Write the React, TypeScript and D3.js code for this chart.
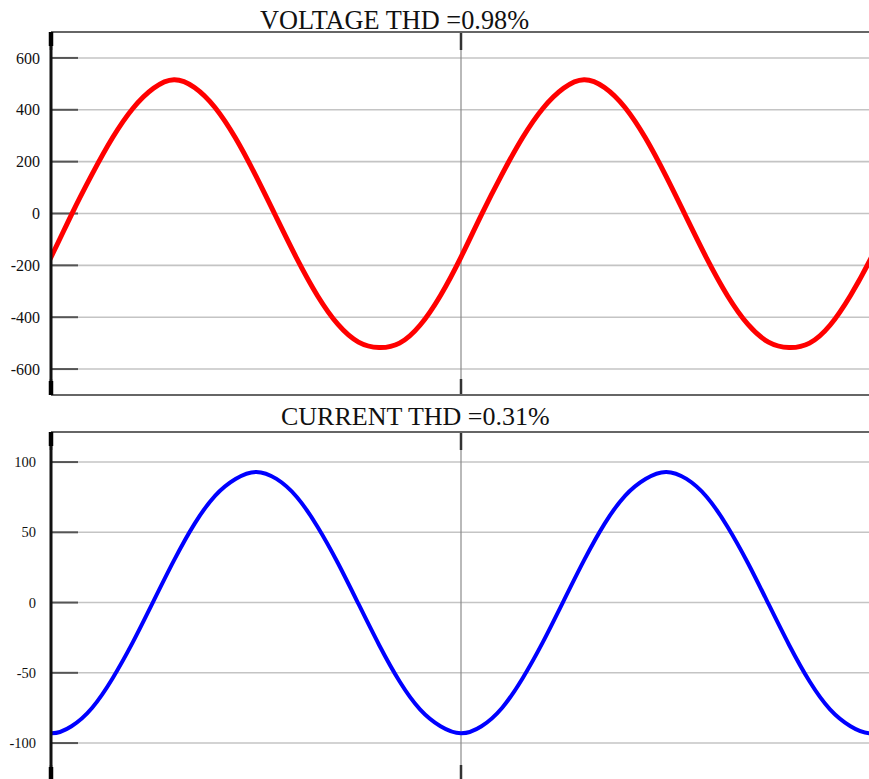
import React from "react";
import * as d3 from "d3";

// time in ms (two 50 Hz cycles, with one sample either side of the visible window)
const timeMs = [
  -1, 0, 1, 2, 3, 4, 5, 6, 7, 8, 9, 10, 11, 12, 13, 14, 15, 16, 17, 18, 19, 20,
  21, 22, 23, 24, 25, 26, 27, 28, 29, 30, 31, 32, 33, 34, 35, 36, 37, 38, 39, 40, 41,
];
const voltage = [
  -316, -168, -4, 151, 292, 406, 483, 516, 486, 409, 291, 144, -16, -175, -317, -428, -496, -517, -500, -431, -316, -168,
  -4, 151, 292, 406, 483, 516, 486, 409, 291, 144, -16, -175, -317, -428, -496, -517, -500, -431, -316, -172, -6,
];
const current = [
  -88, -93, -88, -75, -54, -28, 1, 30, 56, 76, 88, 93, 88, 75, 54, 28, -1, -30, -56, -76, -88, -93,
  -88, -75, -54, -28, 1, 30, 56, 76, 88, 93, 88, 75, 54, 28, -1, -30, -56, -76, -88, -93, -88,
];
const voltageTicks = [600, 400, 200, 0, -200, -400, -600];
const currentTicks = [100, 50, 0, -50, -100];
const xMajorTicks = [0, 20, 40];
const voltageTitle = "VOLTAGE THD =0.98%";
const currentTitle = "CURRENT THD =0.31%";

const W = 869;
const H = 779;
const LEFT = 51;
const SERIF = "'Liberation Serif', 'Times New Roman', serif";

const x = d3.scaleLinear().domain([0, 40]).range([LEFT, 871]);

type PanelProps = {
  id: string;
  yDomain: [number, number];
  yRange: [number, number];
  ticks: number[];
  values: number[];
  color: string;
  strokeWidth: number;
  labelSize: number;
  labelX: number;
  showBottom: boolean;
};

function Panel({ id, yDomain, yRange, ticks, values, color, strokeWidth, labelSize, labelX, showBottom }: PanelProps) {
  const y = d3.scaleLinear().domain(yDomain).range(yRange);
  const top = yRange[1];
  const bottom = yRange[0];
  const line = d3
    .line<number>()
    .x((_, i) => x(timeMs[i]))
    .y((d) => y(d))
    .curve(d3.curveNatural);
  return (
    <g>
      <defs>
        <clipPath id={id}>
          <rect x={LEFT} y={top - 10} width={W - LEFT} height={bottom - top + 20} />
        </clipPath>
      </defs>
      {ticks.map((t) => (
        <g key={t}>
          <line x1={LEFT} x2={W} y1={y(t)} y2={y(t)} stroke="#c4c4c4" strokeWidth={1.6} />
          <line x1={LEFT} x2={LEFT + 27} y1={y(t)} y2={y(t)} stroke="#555" strokeWidth={2} />
          <text
            x={labelX}
            y={y(t)}
            dy="0.35em"
            textAnchor="end"
            fontFamily={SERIF}
            fontSize={labelSize}
            fill="#111"
          >
            {t}
          </text>
        </g>
      ))}
      {/* vertical mid grid line */}
      <line x1={x(20)} x2={x(20)} y1={top} y2={bottom} stroke="#8a8a8a" strokeWidth={1.2} />
      {/* major x ticks */}
      {xMajorTicks.map((t) => (
        <g key={"xt" + t}>
          <line x1={x(t)} x2={x(t)} y1={top} y2={top + 18} stroke="#333" strokeWidth={2.5} />
          <line x1={x(t)} x2={x(t)} y1={bottom - 16} y2={bottom} stroke="#333" strokeWidth={2.5} />
        </g>
      ))}
      {/* frame */}
      <line x1={LEFT} x2={W} y1={top} y2={top} stroke="#666" strokeWidth={2.2} />
      {showBottom && <line x1={LEFT} x2={W} y1={bottom} y2={bottom} stroke="#666" strokeWidth={2.2} />}
      <path
        d={line(values) || ""}
        fill="none"
        stroke={color}
        strokeWidth={strokeWidth}
        strokeLinejoin="round"
        clipPath={`url(#${id})`}
      />
      <line x1={LEFT} x2={LEFT} y1={top} y2={bottom} stroke="#111" strokeWidth={3} />
      <line x1={LEFT} x2={LEFT} y1={top} y2={top + 14} stroke="#000" strokeWidth={4.5} />
      <line x1={LEFT} x2={LEFT} y1={bottom - 14} y2={bottom} stroke="#000" strokeWidth={4.5} />
    </g>
  );
}

export default function App() {
  return (
    <svg
      width={W}
      height={H}
      style={{ position: "absolute", left: 0, top: 0, background: "#fff" }}
    >
      <rect x={0} y={0} width={W} height={H} fill="#fff" />
      <text x={260} y={29} fontFamily={SERIF} fontSize={26.3} fill="#111">
        {voltageTitle}
      </text>
      <Panel
        id="clipV"
        yDomain={[-700, 700]}
        yRange={[395, 32]}
        ticks={voltageTicks}
        values={voltage}
        color="#ff0000"
        strokeWidth={5}
        labelSize={16}
        labelX={40}
        showBottom={true}
      />
      <text x={281} y={425} fontFamily={SERIF} fontSize={26} fill="#111">
        {currentTitle}
      </text>
      <Panel
        id="clipC"
        yDomain={[-127, 121.4]}
        yRange={[781, 432]}
        ticks={currentTicks}
        values={current}
        color="#0000ff"
        strokeWidth={4}
        labelSize={14.5}
        labelX={36}
        showBottom={false}
      />
    </svg>
  );
}
